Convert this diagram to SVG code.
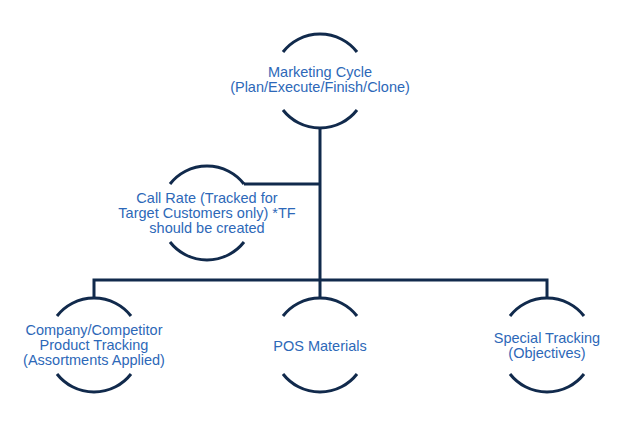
<svg xmlns="http://www.w3.org/2000/svg" width="640" height="427" viewBox="0 0 640 427">
<style>
.arc{fill:none;stroke:#112a4c;stroke-width:3}
.con{fill:none;stroke:#112a4c;stroke-width:3}
text{font-family:"Liberation Sans",Arial,sans-serif;font-size:14.5px;fill:#2d68b8;text-anchor:middle}
</style>
<rect width="640" height="427" fill="#ffffff"/>
<g id="connectors">
<path class="con" d="M320 128 V298"/>
<path class="con" d="M244 184 H320"/>
<path class="con" d="M94 298 V280 H547 V298"/>
</g>
<g id="marketing-cycle">
<path class="arc" d="M283 52 A47 47 0 0 1 357 52"/>
<path class="arc" d="M283 110 A47 47 0 0 0 357 110"/>
<text x="320" y="77">Marketing  Cycle</text>
<text x="320" y="92">(Plan/Execute/Finish/Clone)</text>
</g>
<g id="call-rate">
<path class="arc" d="M170 184 A47 47 0 0 1 244 184"/>
<path class="arc" d="M170 242 A47 47 0 0 0 244 242"/>
<text x="207" y="203">Call Rate (Tracked for</text>
<text x="207" y="218">Target Customers only) *TF</text>
<text x="207" y="233">should be created</text>
</g>
<g id="company-competitor">
<path class="arc" d="M57 316 A47 47 0 0 1 131 316"/>
<path class="arc" d="M57 374 A47 47 0 0 0 131 374"/>
<text x="94" y="335">Company/Competitor</text>
<text x="94" y="350">Product Tracking</text>
<text x="94" y="365">(Assortments Applied)</text>
</g>
<g id="pos-materials">
<path class="arc" d="M283 316 A47 47 0 0 1 357 316"/>
<path class="arc" d="M283 374 A47 47 0 0 0 357 374"/>
<text x="320" y="351">POS Materials</text>
</g>
<g id="special-tracking">
<path class="arc" d="M510 316 A47 47 0 0 1 584 316"/>
<path class="arc" d="M510 374 A47 47 0 0 0 584 374"/>
<text x="547" y="343">Special Tracking</text>
<text x="547" y="358">(Objectives)</text>
</g>
</svg>
